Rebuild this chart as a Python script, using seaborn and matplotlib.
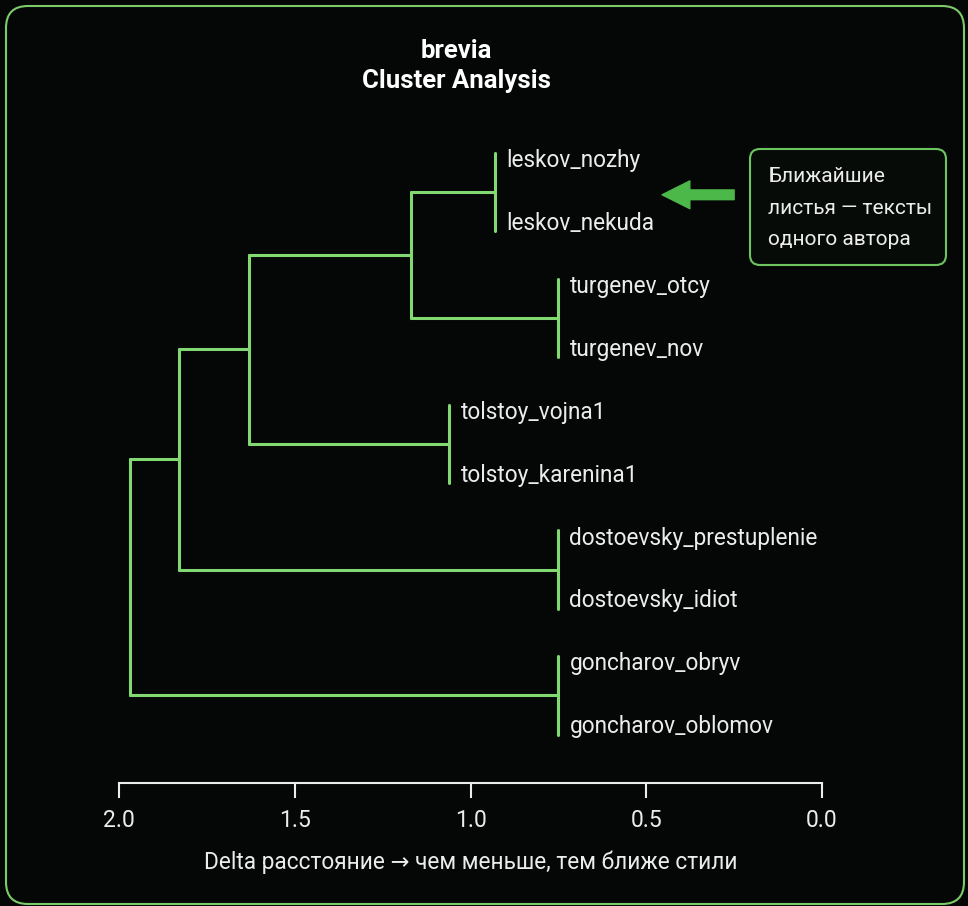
import matplotlib
matplotlib.use("Agg")
import matplotlib.pyplot as plt
import matplotlib.transforms as mtransforms
from matplotlib.patches import FancyBboxPatch
import pandas as pd
import seaborn as sns

# Feuilles du dendrogramme (de haut en bas)
leaves = ["leskov_nozhy", "leskov_nekuda", "turgenev_otcy", "turgenev_nov",
          "tolstoy_vojna1", "tolstoy_karenina1", "dostoevsky_prestuplenie",
          "dostoevsky_idiot", "goncharov_obryv", "goncharov_oblomov"]

# Fusions : noeuds 0..9 = feuilles, 10.. = noeuds créés dans l'ordre
merge_left = [0, 2, 10, 4, 12, 6, 14, 8, 16]
merge_right = [1, 3, 11, 5, 13, 7, 15, 9, 17]
merge_height = [0.93, 0.75, 1.17, 1.06, 1.63, 0.75, 1.83, 0.75, 1.97]

x_ticks = [2.0, 1.5, 1.0, 0.5, 0.0]

title = "brevia\nCluster Analysis"
x_label = "Delta расстояние \u2192 чем меньше, тем ближе стили"
note = "Ближайшие\nлистья \u2014 тексты\nодного автора"

BG = "#050706"
GREEN = "#82d972"
ARROW = "#4cb84a"
FG = "#ececec"


def build_segments():
    """Construit les segments du dendrogramme (liens en U sans tiges de feuilles)."""
    n = len(leaves)
    ypos = {i: float(i) for i in range(n)}
    height = {}
    rows, labels = [], []
    seg = 0
    for k, (a, b, h) in enumerate(zip(merge_left, merge_right, merge_height)):
        node = n + k
        ya, yb = ypos[a], ypos[b]
        ext_a = -0.12 if a < n else 0.0
        ext_b = 0.12 if b < n else 0.0
        # barre verticale
        rows += [(seg, h, ya + ext_a), (seg, h, yb + ext_b)]
        seg += 1
        # liens horizontaux vers les enfants internes
        for child in (a, b):
            if child >= n:
                rows += [(seg, height[child], ypos[child]), (seg, h, ypos[child])]
                seg += 1
            else:
                labels.append((leaves[child], h, ypos[child]))
        ypos[node] = (ya + yb) / 2
        height[node] = h
    df = pd.DataFrame(rows, columns=["seg", "x", "y"])
    return df, labels


def main():
    sns.set_theme(style="dark", rc={
        "figure.facecolor": BG, "axes.facecolor": BG,
        "text.color": FG, "axes.labelcolor": FG,
        "xtick.color": FG, "axes.edgecolor": FG,
        "xtick.bottom": True, "xtick.direction": "out",
    })
    plt.rcParams["font.family"] = ["Roboto", "DejaVu Sans"]

    fig = plt.figure(figsize=(9.68, 9.06), dpi=100)
    ax = fig.add_axes([119 / 968, 1 - 783 / 906, (822 - 119) / 968, (783 - 140) / 906])

    df, labels = build_segments()
    sns.lineplot(data=df, x="x", y="y", units="seg", estimator=None, sort=False,
                 color=GREEN, linewidth=2.2, ax=ax, legend=False)

    for name, h, y in labels:
        ax.annotate(name, xy=(h, y), xytext=(8, 0), textcoords="offset points",
                    ha="left", va="center", fontsize=16.3, color=FG)

    ax.set_xlim(2.0, 0.0)
    ax.set_ylim(9.89, -0.32)
    ax.set_xticks(x_ticks)
    ax.set_xticklabels([f"{t:.1f}" for t in x_ticks])
    ax.set_yticks([])
    ax.set_ylabel("")
    ax.set_xlabel(x_label, fontsize=16.3, labelpad=13)
    ax.tick_params(axis="x", bottom=True, length=11, width=1.5, pad=8,
                   labelsize=16.5, colors=FG)
    sns.despine(ax=ax, left=True)
    ax.spines["bottom"].set_color(FG)
    ax.spines["bottom"].set_linewidth(1.5)
    ax.grid(False)

    # Titre
    fig.text(456 / 968, 1 - 66 / 906, title, ha="center", va="center",
             fontsize=18.5, fontweight="bold", color="white", linespacing=1.35)

    # Flèche + encadré explicatif
    ax.annotate("", xy=(0.455, 0.55), xytext=(0.25, 0.55),
                arrowprops=dict(arrowstyle="simple,head_length=1.0,head_width=1.0,tail_width=0.35",
                                color=ARROW, shrinkA=0, shrinkB=0, mutation_scale=20),
                annotation_clip=False)
    ident = mtransforms.IdentityTransform()
    box = FancyBboxPatch((750, 906 - 265), 196, 116, boxstyle="round,pad=0,rounding_size=10",
                         transform=ident, facecolor="#070b08", edgecolor="#6cc55e",
                         linewidth=1.5, zorder=3)
    fig.patches.append(box)
    fig.text(768 / 968, 1 - 208 / 906, note, ha="left", va="center", fontsize=15,
             color=FG, linespacing=1.85, zorder=4)

    # Cadre arrondi autour de la figure
    frame = FancyBboxPatch((6, 2), 958, 898, boxstyle="round,pad=0,rounding_size=22",
                           transform=ident, facecolor="none", edgecolor="#7ccb6a",
                           linewidth=1.5, zorder=5)
    fig.patches.append(frame)

    fig.savefig("out.png", dpi=100, facecolor=BG)


if __name__ == "__main__":
    main()
